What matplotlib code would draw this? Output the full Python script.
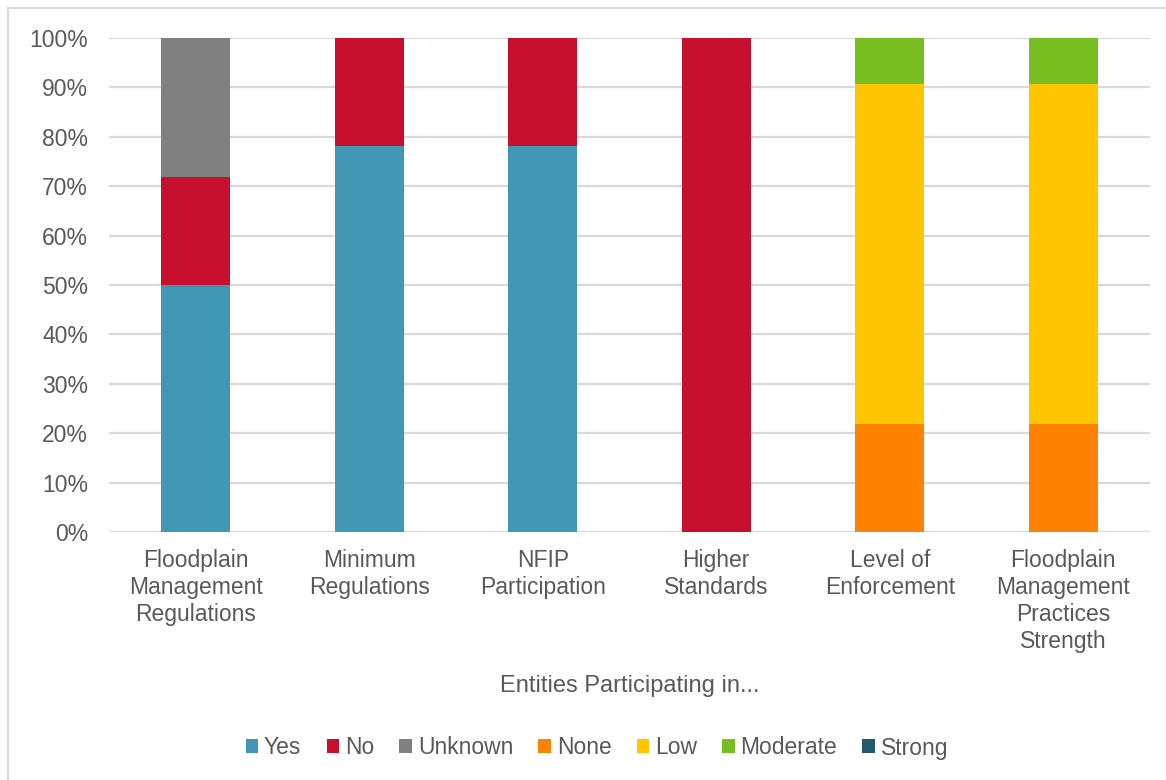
import matplotlib
matplotlib.use("Agg")
from matplotlib import pyplot as plt
from matplotlib.patches import Rectangle
from matplotlib.ticker import PercentFormatter

categories = ["Floodplain\nManagement\nRegulations", "Minimum\nRegulations", "NFIP\nParticipation",
              "Higher\nStandards", "Level of\nEnforcement", "Floodplain\nManagement\nPractices\nStrength"]
series_names = ["Yes", "No", "Unknown", "None", "Low", "Moderate", "Strong"]
yes = [50.0, 78.1, 78.1, 0, 0, 0]
no = [21.9, 21.9, 21.9, 100.0, 0, 0]
unknown = [28.1, 0, 0, 0, 0, 0]
none_ = [0, 0, 0, 0, 21.9, 21.9]
low = [0, 0, 0, 0, 68.75, 68.75]
moderate = [0, 0, 0, 0, 9.35, 9.35]
strong = [0, 0, 0, 0, 0, 0]
colors = ["#4297b5", "#c8102e", "#808080", "#ff8200", "#ffc600", "#78be20", "#255a6c"]

plt.rcParams['font.family'] = ['Liberation Sans', 'DejaVu Sans']
textColor = "#595959"

fig = plt.figure(figsize=(11.66, 7.8), dpi=100)
ax = fig.add_axes([109/1166, 1-532/780, (1150-109)/1166, (532-38)/780])

x = list(range(len(categories)))
bottom = [0]*len(categories)
for name, vals, col in zip(series_names, [yes, no, unknown, none_, low, moderate, strong], colors):
    ax.bar(x, vals, bottom=bottom, width=0.4, color=col, label=name, zorder=3)
    bottom = [b+v for b, v in zip(bottom, vals)]

ax.set_ylim(0, 100)
ax.set_xlim(-0.5, len(categories)-0.5)
ax.set_yticks(range(0, 101, 10))
ax.yaxis.set_major_formatter(PercentFormatter(decimals=0))
ax.set_xticks(x)
ax.set_xticklabels(categories, linespacing=1.22)
ax.tick_params(axis="both", length=0, labelsize=16.5, colors=textColor)
ax.tick_params(axis="y", pad=15)
ax.tick_params(axis="x", pad=12)
ax.grid(axis="y", color="#d9d9d9", linewidth=1.6, zorder=0)
for s in ax.spines.values():
    s.set_visible(False)

ax.set_xlabel("Entities Participating in...", fontsize=17, color=textColor, labelpad=16)

fig.legend(loc="center", bbox_to_anchor=(597/1166, 1-748/780), ncol=7, frameon=False,
           fontsize=16.5, handlelength=0.55, handleheight=0.55, handletextpad=0.25,
           columnspacing=1.1, labelcolor=textColor)

fig.patches.append(Rectangle((8/1166, -0.01), 1.05, 1-8/780+0.01, transform=fig.transFigure,
                             fill=False, edgecolor="#d9d9d9", linewidth=1.5))

plt.savefig("out.png", dpi=100)
